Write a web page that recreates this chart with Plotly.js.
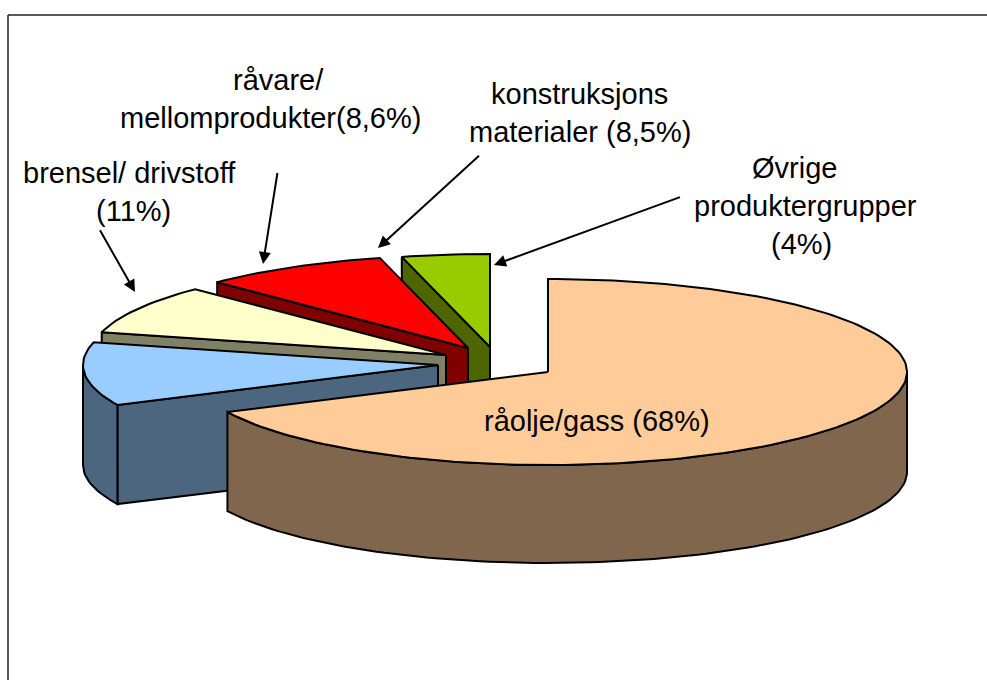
<!DOCTYPE html>
<html>
<head>
<meta charset="utf-8">
<script src="https://cdn.plot.ly/plotly-3.0.1.min.js"></script>
<style>html,body{margin:0;padding:0;background:#fff;overflow:hidden}</style>
</head>
<body>
<div id="chart" style="width:987px;height:680px"></div>
<script>
// Data, in drawing order round the pie, clockwise from 12 o'clock
const sliceNames = ["råolje/gass", "brensel", "råvare/mellomprodukter", "konstruksjonsmaterialer", "øvrige produktergrupper"];
const sliceValues = [68, 11, 8.6, 8.5, 4];
const topColors = ["#FFCC99", "#99CCFF", "#FFFFCC", "#FF0000", "#99CC00"];
const sideColors = ["#80664D", "#4D6680", "#808066", "#800000", "#4D6600"];

// Text
const labelLines = ["råvare/", "mellomprodukter(8,6%)", "konstruksjons", "materialer (8,5%)", "brensel/ drivstoff", "(11%)", "Øvrige", "produktergrupper", "(4%)", "råolje/gass (68%)"];
const labelX = [278, 270, 579, 580, 129, 133, 794, 805, 801, 597];
const labelY = [80, 118, 94, 132, 173, 211, 168, 206, 244, 421];

// Leader arrows
const arrowFromX = [97, 279, 482, 683];
const arrowFromY = [225, 163, 153, 196];
const arrowToX = [135, 263, 378, 494];
const arrowToY = [292, 264, 248, 265];

// Pie projection: where each exploded slice's tip sits on the page
const tipX = [548, 438, 446, 468, 490];
const tipY = [372, 365, 355, 348, 347];
const radiusXRight = 359, radiusXLeft = 355, radiusY = 93, bottomRadiusY = 91, depth = 100;

const total = sliceValues.reduce((a, b) => a + b, 0);
const rad = d => d * Math.PI / 180;
const traces = [];

function addPolygon(xs, ys, color, name) {
  traces.push({
    type: "scatter", mode: "lines", x: xs, y: ys, fill: "toself", fillcolor: color,
    line: {color: "#000", width: 2, shape: "linear"}, name: name, hoverinfo: "name", showlegend: false
  });
}
function sweep(from, to) {
  const out = [];
  const n = Math.max(2, Math.ceil(Math.abs(to - from) / 1.5));
  for (let i = 0; i <= n; i++) out.push(from + (to - from) * i / n);
  return out;
}

let cumulative = 0;
const spans = sliceValues.map(v => {
  const start = cumulative / total * 360;
  cumulative += v;
  return [start, cumulative / total * 360];
});

// Painter's order: back slices first, the big front slice last
for (let i = sliceValues.length - 1; i >= 0; i--) {
  const [a0, a1] = spans[i];
  const cx = tipX[i], cy = tipY[i];
  const px = a => cx + (a > 180 ? radiusXLeft : radiusXRight) * Math.sin(rad(a));
  const topPt = a => [px(a), cy - radiusY * Math.cos(rad(a))];
  const botPt = a => [px(a), cy + depth - bottomRadiusY * Math.cos(rad(a))];

  // cut face along the starting edge, visible on the left half
  if (a0 > 180 && a0 < 360) {
    const t = topPt(a0), b = botPt(a0);
    addPolygon([cx, t[0], b[0], cx, cx], [cy, t[1], b[1], cy + depth, cy], sideColors[i], sliceNames[i]);
  }
  // outer wall, visible on the front half of the rim
  const w0 = Math.max(a0, 90), w1 = Math.min(a1, 270);
  if (w1 > w0) {
    const as = sweep(w0, w1);
    const top = as.map(topPt), bot = as.slice().reverse().map(botPt);
    const all = top.concat(bot);
    all.push(top[0]);
    addPolygon(all.map(p => p[0]), all.map(p => p[1]), sideColors[i], sliceNames[i]);
  }
  // top surface
  const rim = sweep(a0, a1).map(topPt);
  addPolygon([cx].concat(rim.map(p => p[0]), [cx]), [cy].concat(rim.map(p => p[1]), [cy]), topColors[i], sliceNames[i]);
}

const annotations = labelLines.map((t, i) => ({
  x: labelX[i], y: labelY[i], xref: "x", yref: "y", text: t, showarrow: false,
  xanchor: "center", yanchor: "middle",
  font: {family: "Liberation Sans, Arial, sans-serif", size: 29, color: "#000"}
})).concat(arrowToX.map((x, i) => ({
  x: x, y: arrowToY[i], ax: arrowFromX[i], ay: arrowFromY[i],
  xref: "x", yref: "y", axref: "x", ayref: "y",
  showarrow: true, arrowhead: 2, arrowsize: 1.2, arrowwidth: 2, arrowcolor: "#000", standoff: 0
})));

const hidden = {visible: false, fixedrange: true, zeroline: false, showgrid: false};
const layout = {
  width: 987, height: 680, autosize: false,
  margin: {l: 0, r: 0, t: 0, b: 0, pad: 0},
  paper_bgcolor: "#fff", plot_bgcolor: "#fff", showlegend: false,
  xaxis: Object.assign({range: [0, 987]}, hidden),
  yaxis: Object.assign({range: [680, 0]}, hidden),
  annotations: annotations,
  shapes: [
    {type: "line", xref: "x", yref: "y", x0: 8, y0: 15, x1: 987, y1: 15, line: {color: "#222", width: 1.5}},
    {type: "line", xref: "x", yref: "y", x0: 8, y0: 15, x1: 8, y1: 680, line: {color: "#222", width: 1.5}}
  ]
};
Plotly.newPlot("chart", traces, layout, {displayModeBar: false, staticPlot: true});
</script>
</body>
</html>
